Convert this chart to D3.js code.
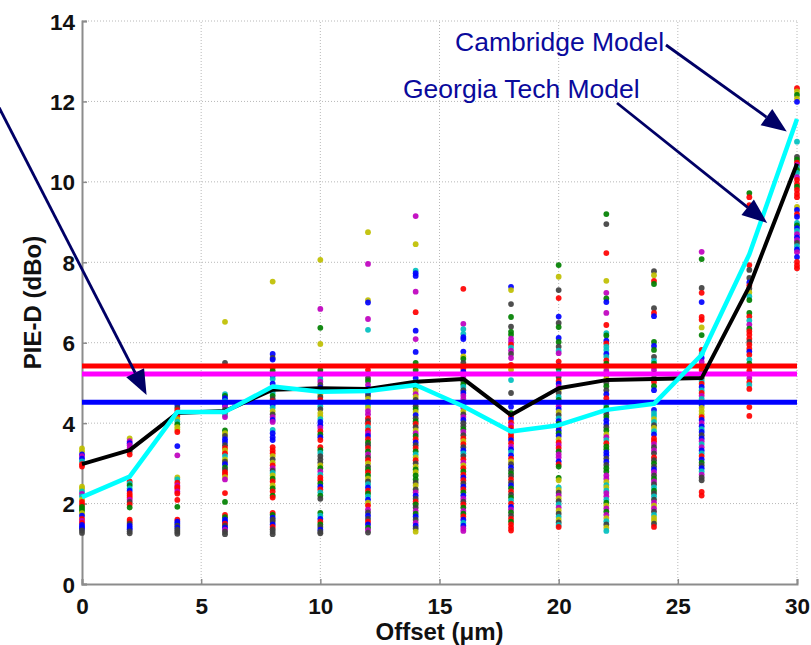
<!DOCTYPE html>
<html>
<head>
<meta charset="utf-8">
<script src="https://cdn.jsdelivr.net/npm/d3@7"></script>
<style>
  html, body { margin: 0; padding: 0; background: #fff; }
  svg { display: block; }
  text { font-family: "Liberation Sans", Arial, Helvetica, sans-serif; }
</style>
</head>
<body>
<svg id="chart" width="811" height="645"></svg>
<script>
// Offsets (µm) at which PIE-D was measured
const offsets = [0, 2, 4, 6, 8, 10, 12, 14, 16, 18, 20, 22, 24, 26, 28, 30];

// Measured PIE-D (dBo) per offset: value followed by series colour letter
const measured = [
  "3.37y 3.30y 3.22b 3.18m 3.12b 3.05c 2.98r 2.92r 2.42y 2.37y 2.30c 2.24m 2.18c 2.10y 2.04r 1.97r 1.92g 1.87g 1.82g 1.76y 1.70b 1.62r 1.57m 1.52r 1.47b 1.42b 1.38b 1.33k 1.27k",
  "3.62y 3.55m 3.50b 3.45m 3.38m 3.30k 3.22r 2.55r 2.50c 2.45g 2.38c 2.32b 2.25r 2.20r 2.15r 2.10m 2.04k 1.98r 1.90g 1.60r 1.55r 1.50k 1.45b 1.40b 1.36b 1.31k 1.26k",
  "4.45b 4.38k 4.32r 4.25m 4.18r 4.10y 4.04c 3.97g 3.90y 3.84y 3.78r 3.43b 3.20m 2.65y 2.60c 2.52r 2.45m 2.41r 2.37r 2.30m 2.25r 2.09r 1.92g 1.60r 1.55b 1.50b 1.45k 1.40b 1.35k 1.30k 1.25k",
  "6.52y 5.50k 4.72c 4.68g 4.62b 4.55c 4.50k 4.45b 4.40m 4.33k 4.26r 4.20c 4.15m 3.82g 3.75y 3.68k 3.60b 3.53b 3.45k 3.38r 3.32y 3.25r 3.18c 3.10y 3.04k 2.98b 2.90g 2.84k 2.78r 2.72r 2.66y 2.60m 2.26r 2.04g 1.72r 1.66g 1.60b 1.55b 1.50r 1.45k 1.40b 1.35m 1.30k 1.24k",
  "7.52y 5.72b 5.62k 5.58b 5.38r 5.30g 5.18b 5.10c 4.98b 4.90m 4.82r 4.75c 4.68g 4.60k 4.55r 4.50m 4.45b 4.38c 4.30y 4.22k 4.15m 4.08b 4.03m 3.83c 3.75b 3.65b 3.58b 3.40r 3.32r 3.25r 3.18y 3.10k 3.02y 2.95r 2.88m 2.82k 2.76c 2.70y 2.62g 2.55r 2.45y 2.38g 2.30r 2.20g 2.15r 1.77r 1.72g 1.65b 1.60k 1.55k 1.48b 1.42r 1.36k 1.30k 1.24k",
  "8.06y 6.84m 6.37g 5.97y 5.32g 5.25k 5.18m 5.10c 5.03m 4.95k 4.88b 4.80g 4.72y 4.65k 4.58r 4.50m 4.42c 4.35k 4.25y 4.18y 4.10c 4.03b 3.95b 3.88m 3.80r 3.72g 3.65b 3.58r 3.40r 3.33g 3.26c 3.18k 3.10k 3.02k 2.95y 2.88g 2.80m 2.72c 2.65r 2.58r 2.50g 2.42b 2.35r 2.28c 2.20g 2.12k 1.77g 1.70c 1.62b 1.55r 1.48g 1.42k 1.35b 1.30k 1.26k",
  "8.75y 7.96m 7.06y 7.00b 6.59m 6.32c 5.32r 5.22g 5.12k 5.05g 4.95m 4.85b 4.75b 4.68k 4.60y 4.52b 4.45c 4.38y 4.30m 4.22m 4.12r 4.05k 3.98r 3.90c 3.82r 3.75m 3.68b 3.60r 3.52g 3.45k 3.38r 3.30g 3.22m 3.15k 3.08r 3.00y 2.92k 2.85g 2.78r 2.70g 2.62y 2.55k 2.48c 2.40b 2.32r 2.25g 2.18c 2.10b 2.02y 1.95r 1.85m 1.78k 1.70b 1.62k 1.55r 1.48b 1.40g 1.34m 1.28k",
  "9.15m 8.45y 7.79c 7.73b 7.66b 7.27m 6.76r 6.30b 6.09m 5.77b 5.50g 5.32g 5.22k 5.12b 5.02c 4.95c 4.88g 4.80y 4.72m 4.65y 4.58k 4.50m 4.42k 4.35g 4.28y 4.20b 4.12k 4.05g 3.98r 3.90k 3.82y 3.75m 3.68g 3.60r 3.52b 3.45k 3.38r 3.30g 3.22c 3.15y 3.08r 3.00k 2.92y 2.85g 2.78y 2.70g 2.60g 2.52k 2.45y 2.35k 2.28m 2.20b 2.12k 2.05r 1.98g 1.90k 1.82m 1.75g 1.68b 1.60k 1.52m 1.45b 1.38k 1.30y",
  "7.34r 6.47m 6.34c 6.22c 6.14b 6.09b 5.78b 5.66y 5.60g 5.50k 5.42g 5.35r 5.28b 5.20k 5.12m 5.05k 4.97g 4.90c 4.82k 4.75b 4.68m 4.60m 4.52k 4.45c 4.38m 4.30y 4.22k 4.15m 4.08b 4.00k 3.92k 3.85g 3.78m 3.70k 3.62r 3.55y 3.48r 3.40k 3.32b 3.25c 3.18k 3.10r 3.02m 2.95y 2.88r 2.80g 2.72r 2.65b 2.58r 2.50k 2.42b 2.35r 2.28g 2.20b 2.12m 2.05k 1.98r 1.90g 1.82m 1.75g 1.68r 1.60b 1.52c 1.45b 1.38m 1.32m",
  "7.39b 7.31y 6.96k 6.64g 6.40k 6.27g 6.20g 6.10m 6.02m 5.95r 5.88c 5.80m 5.72k 5.62m 5.45r 5.33y 5.07c 4.75k 4.41b 4.25g 4.17r 4.10b 4.02r 3.95m 3.88r 3.80b 3.72r 3.65r 3.58b 3.50r 3.42m 3.35b 3.28c 3.20b 3.12r 3.05y 2.98k 2.90b 2.82k 2.75g 2.68k 2.60r 2.52k 2.45b 2.38g 2.30r 2.22k 2.15g 2.08c 2.00r 1.92b 1.85m 1.78g 1.70k 1.62r 1.55g 1.48r 1.40r 1.33r",
  "7.93g 7.64y 7.31k 7.11r 6.65b 6.49k 6.39g 6.12b 6.02g 5.90k 5.80c 5.74m 5.53r 5.42b 5.35g 5.25c 5.15k 5.05r 4.98b 4.90m 4.82y 4.75k 4.65c 4.58g 4.50b 4.42m 4.35b 4.28y 4.20k 4.12c 4.05b 3.98g 3.90r 3.82b 3.75g 3.68b 3.60y 3.52r 3.45m 3.38r 3.30g 3.22m 3.15m 3.05b 2.98r 2.92g 2.64g 2.58y 2.40c 2.34y 2.27k 2.20m 2.13y 2.06k 1.98c 1.90m 1.83y 1.75k 1.67c 1.60y 1.53k 1.47c 1.42r",
  "9.20g 8.95k 8.23r 7.54y 7.24m 7.10g 7.01b 6.74m 6.44r 6.24c 6.18g 6.05b 5.98r 5.90c 5.82c 5.72b 5.65c 5.56r 5.48g 5.38y 5.30m 5.20k 5.10y 5.00k 4.92g 4.82k 4.72b 4.62r 4.52r 4.45c 4.38g 4.30b 4.22k 4.15g 4.07b 3.98b 3.90k 3.82g 3.72y 3.65m 3.58c 3.50r 3.42g 3.35g 3.27b 3.20b 3.12k 3.04b 2.96k 2.88g 2.80g 2.70m 2.62m 2.54y 2.46c 2.40y 2.32c 2.26m 2.18m 2.10c 2.02g 1.95y 1.88m 1.80g 1.72m 1.64y 1.56c 1.48k 1.40y 1.32c",
  "7.78k 7.68y 7.54r 7.46g 6.86k 6.74r 6.66b 6.02g 5.92b 5.82g 5.65k 5.55c 5.48g 5.40r 5.32m 5.22k 5.12g 5.02r 4.92g 4.82b 4.33b 4.25c 4.18c 4.10y 4.03c 3.95k 3.88y 3.80c 3.72b 3.62r 3.55r 3.48m 3.40k 3.32m 3.25k 3.15r 3.08k 3.00g 2.92k 2.85b 2.78m 2.70k 2.62g 2.55m 2.48k 2.40c 2.32g 2.25k 2.18c 2.10k 2.02m 1.95y 1.88m 1.80k 1.72c 1.65y 1.58y 1.50k 1.42r",
  "8.26m 8.08g 7.36k 7.24r 7.01b 6.64r 6.57r 6.38y 6.19g 5.82r 5.72c 5.62b 5.52m 5.40k 5.32r 5.22g 5.12k 5.05c 4.98r 4.90b 4.82c 4.75r 4.68m 4.60c 4.52y 4.45b 4.38y 4.30y 4.22y 4.15r 4.08b 4.00m 3.92b 3.85c 3.78b 3.70k 3.62b 3.55m 3.48c 3.40m 3.32b 3.25c 3.18r 3.10b 3.02g 2.95k 2.88b 2.80c 2.72m 2.65k 2.58k 2.29r 2.20r",
  "9.72g 9.62r 9.42r 9.38r 7.93r 7.81k 7.61k 7.50b 7.42r 7.35k 7.25y 7.15c 7.06g 6.74g 6.65r 6.55c 6.45m 6.35g 6.28r 6.20r 6.10r 6.02k 5.95r 5.85r 5.78b 5.70r 5.58c 5.48g 5.40y 5.30r 5.22k 5.12m 5.02r 4.95c 4.85r 4.40r 4.18r",
  "12.33r 12.25y 12.16g 12.07y 11.99b 11.00c 10.62k 10.55g 10.48r 10.42m 10.37c 10.30g 10.22c 10.12m 10.05r 9.95r 9.88g 9.80r 9.70r 9.62r 9.38y 9.30b 9.20r 9.13b 8.98c 8.92g 8.85b 8.78c 8.70m 8.62b 8.55m 8.48k 8.40c 8.32b 8.25m 8.13b 8.01r 7.92r 7.85r"
];

// Model predictions (dBo) at each offset
const georgiaTech = [2.98, 3.33, 4.25, 4.30, 4.83, 4.87, 4.85, 5.03, 5.10, 4.20, 4.87, 5.07, 5.10, 5.12, 7.40, 10.45];
const cambridge   = [2.16, 2.67, 4.28, 4.28, 4.91, 4.78, 4.80, 4.95, 4.42, 3.79, 3.95, 4.33, 4.48, 5.70, 8.20, 11.56];

// Horizontal reference levels (dBo)
const referenceLevels = [5.42, 5.22, 4.52];
const referenceColors = ["#ff0000", "#ff00ff", "#0000ff"];

// Axis ticks
const xTicks = [0, 5, 10, 15, 20, 25, 30];
const yTicks = [0, 2, 4, 6, 8, 10, 12, 14];

// Series colours for the scatter
const seriesColor = {
  r: "#ff0000", g: "#008000", b: "#0000ff", c: "#00bfbf",
  m: "#bf00bf", y: "#bfbf00", k: "#404040"
};

const svg = d3.select("#chart");
const W = 811, H = 645;
svg.append("rect").attr("width", W).attr("height", H).attr("fill", "#fff");

const x = d3.scaleLinear().domain([0, 30]).range([82, 797]);
const y = d3.scaleLinear().domain([0, 14]).range([584, 21]);

// Dotted grid
const grid = svg.append("g").attr("stroke", "#b8b8b8").attr("stroke-width", 1).attr("stroke-dasharray", "1,2");
grid.selectAll("line.v").data(xTicks.slice(1)).join("line")
  .attr("x1", d => x(d)).attr("x2", d => x(d)).attr("y1", y(0)).attr("y2", y(14));
grid.selectAll("line.h").data(yTicks.slice(1)).join("line")
  .attr("x1", x(0)).attr("x2", x(30)).attr("y1", d => y(d)).attr("y2", d => y(d));

// Axes (MATLAB style: inward ticks, grey axis lines)
const xAxis = svg.append("g").attr("transform", `translate(0,${y(0)})`)
  .call(d3.axisBottom(x).tickValues(xTicks).tickSize(-5).tickPadding(14).tickFormat(d3.format("d")));
const yAxis = svg.append("g").attr("transform", `translate(${x(0)},0)`)
  .call(d3.axisLeft(y).tickValues(yTicks).tickSize(-5).tickPadding(7).tickFormat(d3.format("d")));
[xAxis, yAxis].forEach(a => {
  a.select(".domain").attr("stroke", "#8c8c8c").attr("stroke-width", 2);
  a.selectAll(".tick line").attr("stroke", "#8c8c8c").attr("stroke-width", 1.5);
  a.selectAll(".tick text").attr("fill", "#111").attr("font-size", 22.5).attr("font-weight", "bold")
    .attr("font-family", "'Liberation Sans', Arial, sans-serif");
});
xAxis.selectAll(".tick text").attr("dy", "0.71em");
yAxis.selectAll(".tick text").attr("dy", "0.36em");

// Scatter of measured values
const points = [];
measured.forEach((col, i) => {
  col.trim().split(/\s+/).forEach(tok => {
    points.push({ off: offsets[i], v: parseFloat(tok), s: tok.slice(-1) });
  });
});
svg.append("g").selectAll("circle").data(points).join("circle")
  .attr("cx", d => x(d.off)).attr("cy", d => y(d.v)).attr("r", 2.9)
  .attr("fill", d => seriesColor[d.s]).attr("fill-opacity", 0.92);

// Reference levels
svg.append("g").selectAll("line").data(referenceLevels).join("line")
  .attr("x1", x(0)).attr("x2", x(30))
  .attr("y1", d => y(d)).attr("y2", d => y(d))
  .attr("stroke", (d, i) => referenceColors[i]).attr("stroke-width", 5);

// Model curves
const line = d3.line().x((d, i) => x(offsets[i])).y(d => y(d));
svg.append("path").datum(georgiaTech).attr("d", line)
  .attr("fill", "none").attr("stroke", "#000").attr("stroke-width", 4).attr("stroke-linejoin", "round");
svg.append("path").datum(cambridge).attr("d", line)
  .attr("fill", "none").attr("stroke", "#00ffff").attr("stroke-width", 4.5).attr("stroke-linejoin", "round");

// Axis titles
svg.append("text").attr("x", (x(0) + x(30)) / 2).attr("y", 640).attr("text-anchor", "middle")
  .attr("font-size", 24).attr("font-weight", "bold").attr("fill", "#111").text("Offset (μm)");
svg.append("text").attr("transform", `translate(41,${(y(0) + y(14)) / 2}) rotate(-90)`)
  .attr("text-anchor", "middle").attr("font-size", 24).attr("font-weight", "bold").attr("fill", "#111")
  .text("PIE-D (dBo)");

// Annotations with arrows
const navy = "#000066";
function arrow(x1, y1, x2, y2) {
  const ang = Math.atan2(y2 - y1, x2 - x1);
  const len = 25, half = 10;
  const bx = x2 - len * Math.cos(ang), by = y2 - len * Math.sin(ang);
  svg.append("line").attr("x1", x1).attr("y1", y1).attr("x2", bx).attr("y2", by)
    .attr("stroke", navy).attr("stroke-width", 2.8);
  const px = -Math.sin(ang) * half, py = Math.cos(ang) * half;
  svg.append("path")
    .attr("d", `M${x2},${y2}L${bx + px},${by + py}L${bx - px},${by - py}Z`)
    .attr("fill", navy);
}
const labelColor = "#0a0a9c";
svg.append("text").attr("x", 455).attr("y", 51).attr("font-size", 26.5).attr("fill", labelColor).text("Cambridge Model");
svg.append("text").attr("x", 403).attr("y", 98).attr("font-size", 26.5).attr("fill", labelColor).text("Georgia Tech Model");
arrow(666, 45, x(29.57), y(11.25));
arrow(617, 103, x(28.75), y(8.98));
arrow(-12, 86, x(2.71), y(4.70));
</script>
</body>
</html>
